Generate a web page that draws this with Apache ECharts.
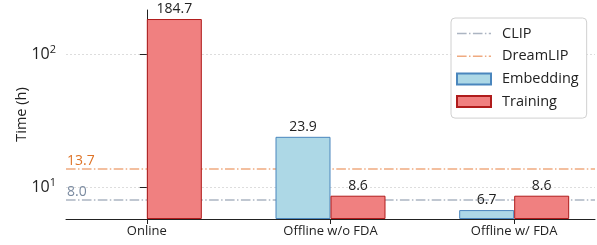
<!DOCTYPE html>
<html>
<head>
<meta charset="utf-8">
<script src="https://cdn.jsdelivr.net/npm/echarts@6/dist/echarts.min.js"></script>
<style>
  html, body { margin: 0; padding: 0; background: #fff; }
  #main { width: 597px; height: 245px; }
</style>
</head>
<body>
<div id="main"></div>
<script>
// 数据
var categories = ['Online', 'Offline w/o FDA', 'Offline w/ FDA'];
var embedding = [null, 23.9, 6.7];   // Online 没有 Embedding
var training = [184.7, 8.6, 8.6];
var clipTime = 8.0;
var dreamlipTime = 13.7;
var yTicks = [10, 100];

var font = 'Open Sans';
var yMin = 5.74, yMax = 216;
var dashDot = [9.6, 2.4, 1.5, 2.4];
// 图例里的点划线图标
var dashDotIcon = 'path://M0,0h9.6v1.5h-9.6z M12,0h1.5v1.5h-1.5z M15.9,0h9.6v1.5h-9.6z M27.9,0h1.5v1.5h-1.5z M31.8,0h2.2v1.5h-2.2z';

function toPoints(arr) {
  var out = [];
  for (var i = 0; i < arr.length; i++) {
    if (arr[i] != null) out.push([i, arr[i]]);
  }
  return out;
}

function refLine(name, value, lineColor, textColor) {
  return {
    name: name,
    type: 'line',
    data: [],
    symbol: 'none',
    z: 1,
    lineStyle: { color: lineColor, width: 1.5, type: dashDot },
    itemStyle: { color: lineColor },
    markLine: {
      silent: true,
      symbol: 'none',
      z: 1,
      lineStyle: { color: lineColor, width: 1.5, type: dashDot },
      label: {
        show: true,
        position: 'insideStartTop',
        distance: [1, 1],
        formatter: function (p) { return p.value.toFixed(1); },
        color: textColor,
        fontFamily: font,
        fontSize: 14
      },
      data: [{ yAxis: value }]
    }
  };
}

var chart = echarts.init(document.getElementById('main'));

var option = {
  animation: false,
  grid: { left: 66, right: 2, top: 10, bottom: 26, outerBoundsMode: 'none' },
  legend: {
    left: 451,
    top: 18,
    orient: 'vertical',
    itemWidth: 34,
    itemHeight: 11,
    itemGap: 7.7,
    padding: [8, 8, 9, 5],
    borderColor: '#d0d0d0',
    borderWidth: 1,
    borderRadius: 4,
    backgroundColor: '#fff',
    textStyle: { fontFamily: font, fontSize: 14.5, lineHeight: 15, color: '#222', padding: [0, 0, 0, 6] },
    data: [
      { name: 'CLIP', icon: dashDotIcon },
      { name: 'DreamLIP', icon: dashDotIcon },
      { name: 'Embedding', icon: 'rect' },
      { name: 'Training', icon: 'rect' }
    ]
  },
  xAxis: {
    type: 'value',
    min: -0.44,
    max: 2.44,
    splitLine: { show: false },
    axisLine: { lineStyle: { color: '#222', width: 1 } },
    axisTick: { show: true, length: 5, customValues: [0, 1, 2], lineStyle: { color: '#222' } },
    axisLabel: {
      customValues: [0, 1, 2],
      margin: 6,
      fontFamily: font,
      fontSize: 13,
      color: '#222',
      formatter: function (v) { return categories[Math.round(v)]; }
    }
  },
  yAxis: {
    type: 'log',
    logBase: 10,
    min: yMin,
    max: yMax,
    startValue: yMin,
    name: 'Time (h)',
    nameLocation: 'middle',
    nameGap: 37,
    nameMoveOverlap: false,
    nameTextStyle: { fontFamily: font, fontSize: 14.5, color: '#222' },
    axisLine: { show: true, lineStyle: { color: '#222', width: 1 } },
    axisTick: { show: true, length: 7, customValues: yTicks, lineStyle: { color: '#222' } },
    splitLine: { show: true, lineStyle: { color: '#dddddd', type: [2, 2], width: 1 } },
    axisLabel: {
      customValues: yTicks,
      margin: 10,
      fontFamily: font,
      fontSize: 16,
      color: '#222',
      formatter: function (v) {
        return '10{sup|' + Math.round(Math.log10(v)) + '}';
      },
      rich: { sup: { fontSize: 11, fontFamily: font, color: '#222', verticalAlign: 'top', padding: [0, 0, 9, 0] } }
    }
  },
  series: [
    refLine('CLIP', clipTime, '#acb5c2', '#7a8aa0'),
    refLine('DreamLIP', dreamlipTime, '#efaa80', '#de7428'),
    {
      name: 'Embedding',
      type: 'bar',
      z: 3,
      barWidth: 55,
      barGap: '0%',
      data: toPoints(embedding),
      itemStyle: { color: '#add8e6', borderColor: '#4a86bd', borderWidth: 1 },
      label: { show: true, position: 'top', distance: 3, fontFamily: font, fontSize: 14, color: '#222',
        formatter: function (p) { return p.value[1].toFixed(1); } }
    },
    {
      name: 'Training',
      type: 'bar',
      z: 3,
      barWidth: 55,
      barGap: '0%',
      data: toPoints(training),
      itemStyle: { color: '#f08080', borderColor: '#b01c1c', borderWidth: 1 },
      label: { show: true, position: 'top', distance: 3, fontFamily: font, fontSize: 14, color: '#222',
        formatter: function (p) { return p.value[1].toFixed(1); } }
    }
  ]
};

chart.setOption(option);
</script>
</body>
</html>
